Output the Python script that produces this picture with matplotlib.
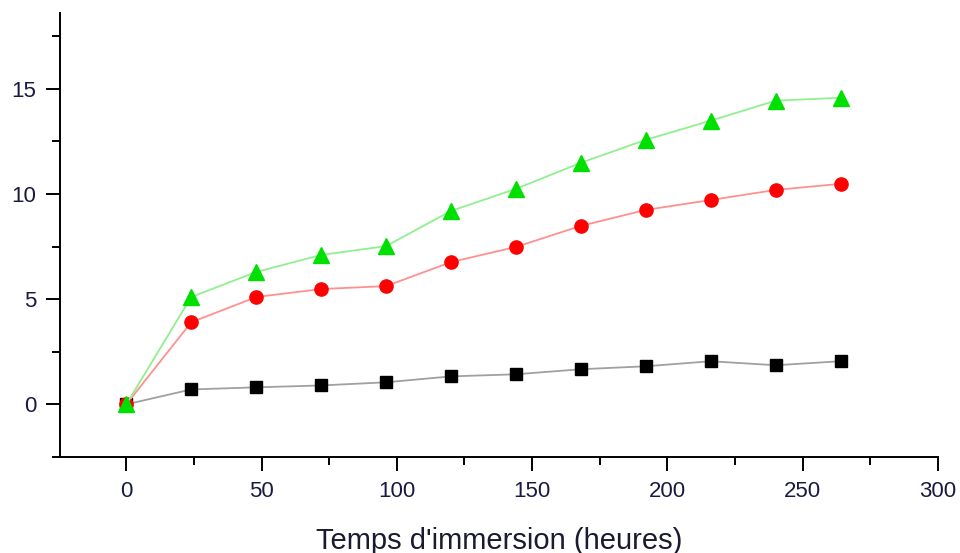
import matplotlib.pyplot as plt
from matplotlib.ticker import MultipleLocator

plt.rcParams['font.family'] = ['Liberation Sans', 'DejaVu Sans']

temps = [0, 24, 48, 72, 96, 120, 144, 168, 192, 216, 240, 264]
serie_noire = [0, 0.71, 0.81, 0.9, 1.05, 1.33, 1.43, 1.67, 1.81, 2.05, 1.86, 2.05]
serie_rouge = [0, 3.9, 5.1, 5.48, 5.62, 6.76, 7.48, 8.48, 9.24, 9.71, 10.19, 10.48]
serie_verte = [0, 5.1, 6.29, 7.1, 7.52, 9.19, 10.24, 11.48, 12.57, 13.48, 14.43, 14.57]

fig = plt.figure(figsize=(9.6, 5.53), dpi=100)
ax = fig.add_axes([0.0625, 0.1736, 0.9145, 0.803])

ax.plot(temps, serie_noire, color='#a0a0a0', lw=1.3, marker='s', ms=8.5,
        mfc='black', mec='black', zorder=3)
ax.plot(temps, serie_rouge, color='#ff9090', lw=1.3, marker='o', ms=9.5,
        mfc='red', mec='red', zorder=3)
ax.plot(temps, serie_verte, color='#90f090', lw=1.3, marker='^', ms=11,
        mfc='#00e000', mec='#00e000', zorder=4)

ax.set_xlim(-24.5, 300)
ax.set_ylim(-2.5, 18.6)
ax.xaxis.set_major_locator(MultipleLocator(50))
ax.xaxis.set_minor_locator(MultipleLocator(25))
ax.yaxis.set_major_locator(MultipleLocator(5))
ax.yaxis.set_minor_locator(MultipleLocator(2.5))

ax.spines['top'].set_visible(False)
ax.spines['right'].set_visible(False)
for s in ['left', 'bottom']:
    ax.spines[s].set_linewidth(1.4)
ax.tick_params(which='major', direction='out', length=10, width=1.4, labelsize=16, pad=7)
ax.tick_params(which='minor', direction='out', length=6, width=1.4)
for lab in ax.get_xticklabels() + ax.get_yticklabels():
    lab.set_color('#1a1a40')

ax.set_xlabel("Temps d'immersion (heures)", fontsize=21, labelpad=18, color='#1a1a30')

fig.savefig('out.png', dpi=100)
